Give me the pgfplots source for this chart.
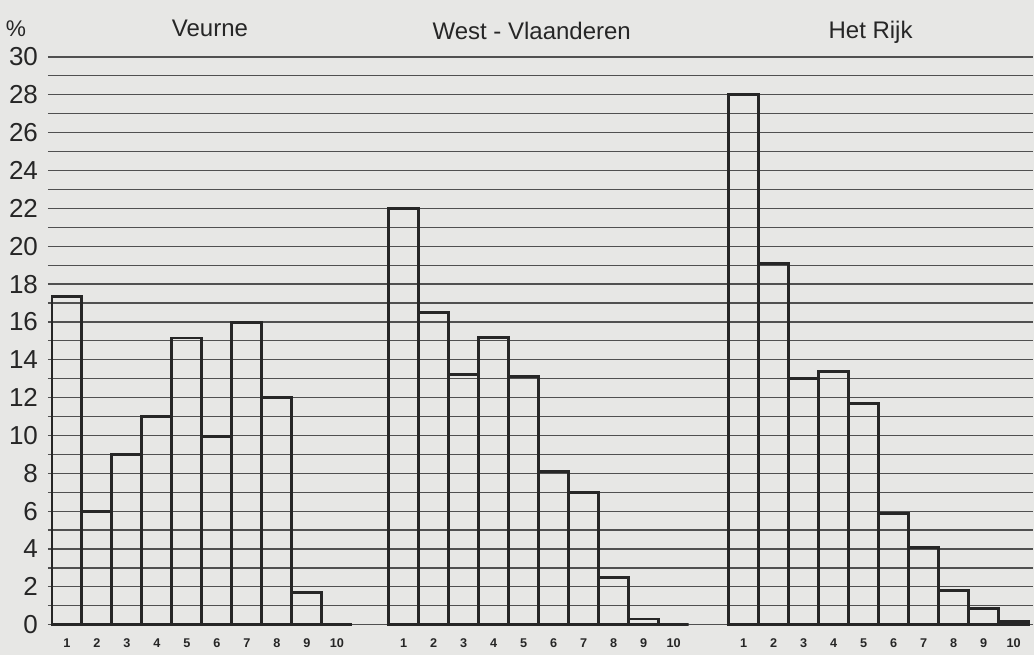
\documentclass[border=0pt]{standalone}
\usepackage{pgfplots}
\pgfplotsset{compat=1.18}
\usepackage{fontspec}
\setmainfont{Liberation Sans}
\definecolor{paper}{RGB}{231,231,229}
\definecolor{ink}{RGB}{38,38,38}
\definecolor{gridc}{RGB}{80,80,80}
\begin{document}
\begin{tikzpicture}
\fill[paper] (0,0) rectangle (775.5pt,491.25pt);
\begin{axis}[
  at={(36pt,15.4pt)}, anchor=south west,
  x=22.5pt, y=14.2pt,
  xmin=-0.133, xmax=32.73, ymin=-0.5, ymax=30.5,
  clip mode=individual,
  axis line style={draw=none},
  major tick length=0pt, minor tick length=0pt,
  ytick={0,2,...,30},
  minor ytick={1,3,...,29},
  ymajorgrids, yminorgrids,
  major grid style={draw=gridc, line width=0.9pt},
  minor grid style={draw=gridc, line width=0.9pt},
  /pgf/number format/assume math mode=true,
  yticklabel style={font=\fontsize{19.5}{19.5}\selectfont, text=ink, xshift=-4pt},
  xtick={0.5,1.5,2.5,3.5,4.5,5.5,6.5,7.5,8.5,9.5,
         11.73,12.73,13.73,14.73,15.73,16.73,17.73,18.73,19.73,20.73,
         23.07,24.07,25.07,26.07,27.07,28.07,29.07,30.07,31.07,32.07},
  xticklabels={1,2,3,4,5,6,7,8,9,10,1,2,3,4,5,6,7,8,9,10,1,2,3,4,5,6,7,8,9,10},
  xticklabel style={font=\bfseries\fontsize{9.5}{9.5}\selectfont, text=ink, yshift=0pt},
]
% Veurne
\addplot[ybar, bar width=22.5pt, bar shift=0pt, draw=ink, line width=2.2pt, fill=none]
  coordinates {(0.5,17.35) (1.5,6.0) (2.5,9.0) (3.5,11.0) (4.5,15.15) (5.5,9.95) (6.5,15.95) (7.5,12.0) (8.5,1.7) (9.5,0)};
% West-Vlaanderen
\addplot[ybar, bar width=22.5pt, bar shift=0pt, draw=ink, line width=2.2pt, fill=none]
  coordinates {(11.73,22.0) (12.73,16.5) (13.73,13.2) (14.73,15.2) (15.73,13.1) (16.73,8.1) (17.73,7.0) (18.73,2.5) (19.73,0.3) (20.73,0)};
% Het Rijk
\addplot[ybar, bar width=22.5pt, bar shift=0pt, draw=ink, line width=2.2pt, fill=none]
  coordinates {(23.07,28.0) (24.07,19.1) (25.07,13.0) (26.07,13.4) (27.07,11.7) (28.07,5.9) (29.07,4.1) (30.07,1.8) (31.07,0.85) (32.07,0.15)};
\node[text=ink, font=\fontsize{17}{17}\selectfont] at (axis cs:-1.2,31.5) {\%};
\node[text=ink, font=\fontsize{18}{18}\selectfont] at (axis cs:5.27,31.5) {Veurne};
\node[text=ink, font=\fontsize{18}{18}\selectfont] at (axis cs:16.0,31.4) {West - Vlaanderen};
\node[text=ink, font=\fontsize{18}{18}\selectfont] at (axis cs:27.3,31.3) {Het Rijk};
\end{axis}
\end{tikzpicture}
\end{document}
